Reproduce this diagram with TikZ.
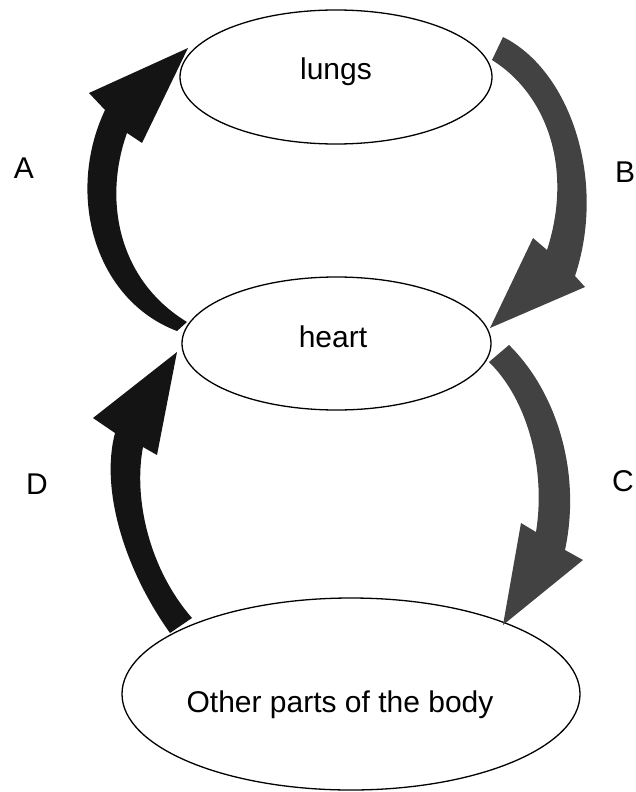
\documentclass[tikz,border=0pt]{standalone}
\usepackage{fontspec}
\setmainfont{Liberation Sans}
\usetikzlibrary{shapes.geometric}
\begin{document}
\begin{tikzpicture}[x=1pt,y=-1pt,
  organ/.style={ellipse,draw=black,line width=1.3pt,inner sep=0pt,fill=white},
  txt/.style={font=\fontsize{30}{36}\selectfont},
  lbl/.style={font=\fontsize{30}{36}\selectfont,inner sep=0pt},
  darkarrow/.style={fill=black!92,draw=none},
  greyarrow/.style={fill=black!74,draw=none}]
\useasboundingbox (0,0) rectangle (636,792);
\fill[white] (0,0) rectangle (636,792);
% ellipses
\node[organ,minimum width=312pt,minimum height=134pt] (lungs) at (336,77) {};
\node[organ,minimum width=309pt,minimum height=133pt] (heart) at (336.5,343.5) {};
\node[organ,minimum width=458pt,minimum height=192pt] (body) at (351,694) {};
\node[txt,anchor=base] (tlungs) at (336,80) {lungs};
\node[txt,anchor=base] (theart) at (333,347) {heart};
\node[txt,anchor=base] (tbody) at (340,712) {Other parts of the body};
% labels
\node[lbl] (A) at (24,168) {A};
\node[lbl] (B) at (625,172) {B};
\node[lbl] (C) at (623,481) {C};
\node[lbl] (D) at (37,484) {D};
% arrow A (heart -> lungs)
\fill[darkarrow] (177,331) .. controls (95,300) and (65,195) .. (105,110)
  -- (89,93) -- (188,48) -- (142,143) -- (127,133)
  .. controls (103,200) and (118,280) .. (187,322) -- cycle;
% arrow B (lungs -> heart)
\fill[greyarrow] (503,37) .. controls (570,70) and (607,180) .. (575,276)
  -- (585,287) -- (490,328) -- (533,238) -- (547,250)
  .. controls (573,170) and (548,95) .. (492,60) -- cycle;
% arrow C (heart -> body)
\fill[greyarrow] (509,345) .. controls (555,390) and (582,470) .. (565,550)
  -- (583,560) -- (503,625) -- (521,523) -- (536,532)
  .. controls (546,470) and (528,400) .. (489,362) -- cycle;
% arrow D (body -> heart)
\fill[darkarrow] (170,633) .. controls (125,570) and (100,490) .. (115,433)
  -- (93,418) -- (177,352) -- (157,455) -- (143,447)
  .. controls (133,500) and (150,570) .. (192,618) -- cycle;
\end{tikzpicture}
\end{document}
